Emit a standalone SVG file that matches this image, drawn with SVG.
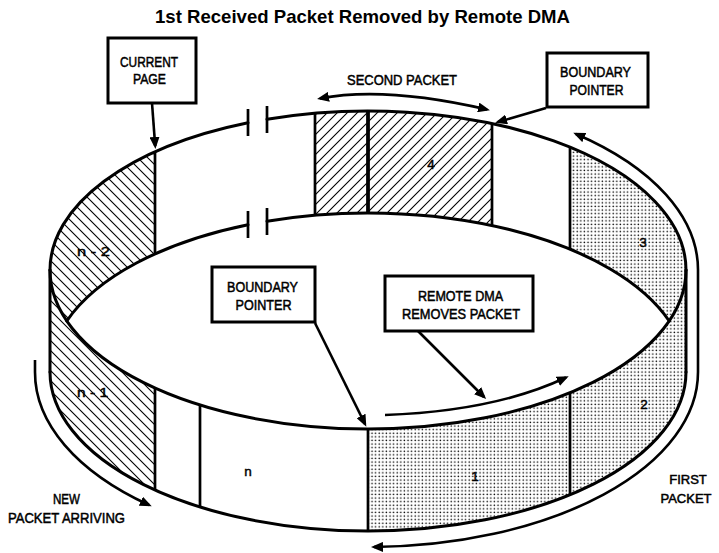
<svg xmlns="http://www.w3.org/2000/svg" width="719" height="553" viewBox="0 0 719 553">
<style>
.ln{fill:none;stroke:#000;stroke-width:3;stroke-linecap:round}
.dv{fill:none;stroke:#000;stroke-width:2.7}
.box{fill:#fff;stroke:#000;stroke-width:3}
.ar{fill:none;stroke:#000;stroke-width:2.6}
.t{font-family:"Liberation Sans",Arial,sans-serif;font-size:14.5px;fill:#000;stroke:#000;stroke-width:0.5;text-anchor:middle}
.num{font-family:"Liberation Sans",Arial,sans-serif;font-size:13.5px;fill:#000;stroke:#000;stroke-width:0.45;text-anchor:middle}
.title{font-family:"Liberation Sans",Arial,sans-serif;font-size:18.6px;font-weight:bold;fill:#000;text-anchor:middle}
</style>
<defs>
<pattern id="hatchL" patternUnits="userSpaceOnUse" width="10" height="10">
<path d="M-1,-1 L11,11 M-1,9 L1,11 M9,-1 L11,1" stroke="#000" stroke-width="1.1"/>
</pattern>
<pattern id="hatchR" patternUnits="userSpaceOnUse" width="10" height="10">
<path d="M-1,11 L11,-1 M-1,1 L1,-1 M9,11 L11,9" stroke="#000" stroke-width="1.1"/>
</pattern>
<pattern id="dots" patternUnits="userSpaceOnUse" width="3.6" height="3.6">
<circle cx="1.2" cy="1.2" r="0.8" fill="#000"/>
</pattern>
<marker id="ah" viewBox="0 0 12 10" refX="9" refY="5" markerWidth="12" markerHeight="10" markerUnits="userSpaceOnUse" orient="auto-start-reverse">
<path d="M0,0 L12,5 L0,10 Z" fill="#000"/>
</marker>
</defs>
<rect width="719" height="553" fill="#fff"/>
<text class="title" x="362.5" y="23" textLength="415" lengthAdjust="spacingAndGlyphs">1st Received Packet Removed by Remote DMA</text>

<g id="ring">
<path id="seg-n2" fill="url(#hatchL)" d="M50,270 A318,159 0 0,1 155,151.94 L155,253.94 A318,159 0 0,0 66.8,321 A318,159 0 0,1 50,270 Z"/>
<path id="seg-n1" fill="url(#hatchL)" d="M50,270 A318,159 0 0,0 155,388.06 L155,490.06 A318,159 0 0,1 50,372 Z"/>
<path id="seg-second" fill="url(#hatchR)" d="M315,113.22 A318,159 0 0,1 492,123.59 L492,225.59 A318,159 0 0,0 315,215.22 Z"/>
<path id="seg-3" fill="url(#dots)" d="M570,147.2 A318,159 0 0,1 686,270 A318,159 0 0,1 669.2,321 A318,159 0 0,0 570,249.2 Z"/>
<path id="seg-2" fill="url(#dots)" d="M570,392.8 A318,159 0 0,0 686,270 L686,372 A318,159 0 0,1 570,494.8 Z"/>
<path id="seg-1" fill="url(#dots)" d="M368,429 A318,159 0 0,0 570,392.8 L570,494.8 A318,159 0 0,1 368,531 Z"/>
<path class="ln" d="M50,270 A318,159 0 0,1 248,122.76 M267,119.23 A318,159 0 0,1 686,270"/>
<path class="ln" d="M50,270 A318,159 0 0,0 368,429 A318,159 0 0,0 686,270"/>
<path class="ln" d="M66.8,321 A318,159 0 0,1 248,224.76 M267,221.23 A318,159 0 0,1 669.2,321"/>
<path class="ln" d="M50,372 A318,159 0 0,0 368,531 A318,159 0 0,0 686,372"/>
<path class="ln" d="M50,270 V372 M686,270 V372"/>
<path class="dv" d="M248,109 V136 M267,106 V133 M248,211 V238 M267,208 V235"/>
<path class="dv" d="M155,151.94 V253.94 M315,113.22 V215.22 M492,123.59 V225.59 M570,147.2 V249.2"/>
<path class="dv" d="M368,111 V213" style="stroke-width:3.8"/>
<path class="dv" d="M155,388.06 V490.06 M200,405 V507 M368,429 V531 M570,392.8 V494.8"/>
<text class="num" x="93.5" y="256" textLength="33" lengthAdjust="spacingAndGlyphs">n - 2</text>
<text class="num" x="92.5" y="397" textLength="31" lengthAdjust="spacingAndGlyphs">n - 1</text>
<text class="num" x="248" y="476">n</text>
<text class="num" x="475" y="481">1</text>
<text class="num" x="644" y="409">2</text>
<text class="num" x="643" y="247">3</text>
<text class="num" x="431" y="169">4</text>
</g>

<g id="connectors">
<path class="ar" marker-end="url(#ah)" d="M152,103 L155.2,146"/>
<path class="ar" marker-end="url(#ah)" d="M546,108 L498,122"/>
<path class="ar" marker-start="url(#ah)" marker-end="url(#ah)" d="M320,98.5 Q385,86 487,109.5"/>
<path class="ar" marker-end="url(#ah)" d="M315,323 L365,424"/>
<path class="ar" marker-end="url(#ah)" d="M418,331 L484,397"/>
<path class="ar" marker-end="url(#ah)" d="M385,415 Q495,411 566,377.5"/>
<path class="ar" marker-start="url(#ah)" marker-end="url(#ah)" d="M576,134 A330,175 0 0,1 698,270 L698,372 A330,175 0 0,1 374,547"/>
<path class="ar" marker-end="url(#ah)" d="M35,360 L35,372 A333,176 0 0,0 149,505"/>
</g>

<g id="current-page">
<rect class="box" x="108" y="38" width="88" height="65"/>
<text class="t" x="149" y="66.5" textLength="58" lengthAdjust="spacingAndGlyphs">CURRENT</text>
<text class="t" x="149.5" y="84" textLength="33" lengthAdjust="spacingAndGlyphs">PAGE</text>
</g>
<g id="boundary-pointer-top">
<rect class="box" x="547" y="53" width="101" height="54"/>
<text class="t" x="595.5" y="77" textLength="71" lengthAdjust="spacingAndGlyphs">BOUNDARY</text>
<text class="t" x="596.5" y="95" textLength="54" lengthAdjust="spacingAndGlyphs">POINTER</text>
</g>
<g id="second-packet">
<text class="t" x="402" y="85" textLength="110" lengthAdjust="spacingAndGlyphs">SECOND PACKET</text>
</g>
<g id="boundary-pointer-mid">
<rect class="box" x="212" y="267" width="103" height="55"/>
<text class="t" x="262.5" y="292" textLength="71" lengthAdjust="spacingAndGlyphs">BOUNDARY</text>
<text class="t" x="263.5" y="310" textLength="56" lengthAdjust="spacingAndGlyphs">POINTER</text>
</g>
<g id="remote-dma">
<rect class="box" x="385" y="276" width="148" height="55"/>
<text class="t" x="460.5" y="301" textLength="85" lengthAdjust="spacingAndGlyphs">REMOTE DMA</text>
<text class="t" x="461" y="319" textLength="118" lengthAdjust="spacingAndGlyphs">REMOVES PACKET</text>
</g>
<g id="new-packet">
<text class="t" x="66.5" y="504" textLength="27" lengthAdjust="spacingAndGlyphs">NEW</text>
<text class="t" x="66.5" y="523" textLength="117" lengthAdjust="spacingAndGlyphs">PACKET ARRIVING</text>
</g>
<g id="first-packet">
<text class="t" x="688" y="484" style="font-size:13px">FIRST</text>
<text class="t" x="686" y="503" style="font-size:13px">PACKET</text>
</g>
</svg>
